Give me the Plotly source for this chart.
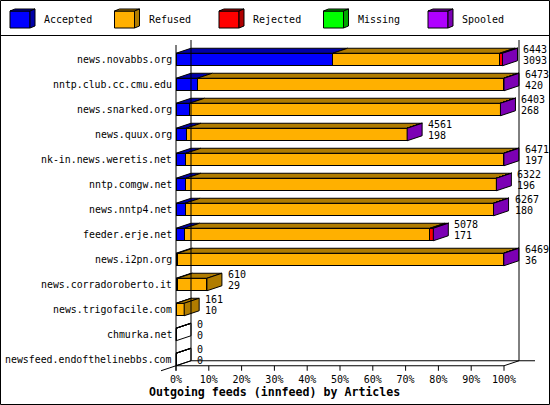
import plotly.graph_objects as go

# Outgoing feeds (innfeed) by Articles
feeds = ['news.novabbs.org', 'nntp.club.cc.cmu.edu', 'news.snarked.org', 'news.quux.org',
         'nk-in.news.weretis.net', 'nntp.comgw.net', 'news.nntp4.net', 'feeder.erje.net',
         'news.i2pn.org', 'news.corradoroberto.it', 'news.trigofacile.com', 'chmurka.net',
         'newsfeed.endofthelinebbs.com']
offered = [6443, 6473, 6403, 4561, 6471, 6322, 6267, 5078, 6469, 610, 161, 0, 0]
accepted = [3093, 420, 268, 198, 197, 196, 180, 171, 36, 29, 10, 0, 0]
refused = [3295, 6047, 6135, 4363, 6274, 6126, 6087, 4841, 6433, 581, 151, 0, 0]
rejected = [55, 6, 0, 0, 0, 0, 0, 66, 0, None, None, None, None]
missing = [0, 0, 0, 0, 0, 0, 0, 0, 0, None, None, None, None]
spooled = [0, 0, 0, 0, 0, 0, 0, 0, 0, None, None, None, None]

series = ['Accepted', 'Refused', 'Rejected', 'Missing', 'Spooled']
front = ['#0000ff', '#ffb000', '#ff0000', '#00ff00', '#b000ff']
dark = ['#0000a8', '#b07c00', '#b00000', '#00a800', '#7c00b4']
ticks = [0, 10, 20, 30, 40, 50, 60, 70, 80, 90, 100]

FONT = 'DejaVu Sans Mono'
L, R, T, B = 160, 14, 40, 33
W, H = 550 - L - R, 405 - T - B
PX_PCT = 3.28          # pixels per percent
DX, DY = 15 / PX_PCT, 0.2   # 3d depth in axis units
HW = 0.25              # half bar width

def px(p):
    return (p - L) / W

def py(p):
    return (405 - B - p) / H

scale = 100.0 / max(offered)
data = [accepted, refused, rejected, missing, spooled]
rows = list(range(len(feeds)))

fig = go.Figure()
for k, name in enumerate(series):
    fig.add_trace(go.Bar(
        y=rows, x=[(v or 0) * scale for v in data[k]], orientation='h', name=name,
        width=2 * HW, marker=dict(color=front[k], line=dict(color='black', width=1)),
        hoverinfo='skip', showlegend=False))

shapes = []
annots = []
blk = dict(color='black', width=1)
for i in rows:
    start = 0.0
    last = None
    for k in range(len(series)):
        v = data[k][i]
        if v is None:
            continue
        end = start + v * scale
        top = i - HW
        shapes.append(dict(type='path', xref='x', yref='y', fillcolor=dark[k], line=blk,
                           path=f'M{start},{top} L{start + DX},{top - DY} L{end + DX},{top - DY} L{end},{top} Z'))
        start = end
        last = k
    fill = dark[last] if offered[i] > 0 else 'rgba(0,0,0,0)'
    shapes.append(dict(type='path', xref='x', yref='y', fillcolor=fill, line=blk,
                       path=f'M{start},{i - HW} L{start + DX},{i - HW - DY} L{start + DX},{i + HW - DY} L{start},{i + HW} Z'))
    annots.append(dict(x=start + DX, y=i, xref='x', yref='y', text=str(offered[i]), showarrow=False,
                       xanchor='left', xshift=4, yshift=10, font=dict(family=FONT, size=10, color='black')))
    annots.append(dict(x=start + DX, y=i, xref='x', yref='y', text=str(accepted[i]), showarrow=False,
                       xanchor='left', xshift=4, yshift=-1, font=dict(family=FONT, size=10, color='black')))
    annots.append(dict(x=0, y=i, xref='x', yref='y', text=feeds[i], showarrow=False,
                       xanchor='right', xshift=-2, font=dict(family=FONT, size=9.9, color='black')))

# frame of the 3d chart
n = len(feeds) - 1
yf = n + HW
yb = yf - DY
ytop = -0.78
frame = [
    (DX, ytop, DX, yb), (100 + DX, ytop, 100 + DX, yb),
    (DX, yb, 109.45, yb), (0, yf, 100, yf), (100, yf, 100 + DX, yb),
    (-DX, yf + DY, DX, yb), (0, ytop + DY, 0, yf + DY),
]
for x0, y0, x1, y1 in frame:
    shapes.append(dict(type='line', xref='x', yref='y', x0=x0, y0=y0, x1=x1, y1=y1, line=blk))
for t in ticks:
    shapes.append(dict(type='line', xref='x', yref='y', x0=t, y0=yf, x1=t, y1=yf + DY, line=blk))

# legend with little cubes
for k, name in enumerate(series):
    x0 = 10 + 104.5 * k
    shapes.append(dict(type='path', xref='paper', yref='paper', fillcolor=front[k], line=blk,
                       path=f'M{px(x0)},{py(11)} L{px(x0 + 20)},{py(11)} L{px(x0 + 20)},{py(28)} L{px(x0)},{py(28)} Z'))
    shapes.append(dict(type='path', xref='paper', yref='paper', fillcolor=dark[k], line=blk,
                       path=f'M{px(x0)},{py(11)} L{px(x0 + 5)},{py(9)} L{px(x0 + 25)},{py(9)} L{px(x0 + 20)},{py(11)} Z'))
    shapes.append(dict(type='path', xref='paper', yref='paper', fillcolor=dark[k], line=blk,
                       path=f'M{px(x0 + 20)},{py(11)} L{px(x0 + 25)},{py(9)} L{px(x0 + 25)},{py(26)} L{px(x0 + 20)},{py(28)} Z'))
    annots.append(dict(x=px(x0 + 32), y=py(20), xref='paper', yref='paper', text=name, showarrow=False,
                       xanchor='left', yanchor='middle', font=dict(family=FONT, size=10, color='black')))

# outer border and legend separator
shapes.append(dict(type='rect', xref='paper', yref='paper', x0=px(0.5), y0=py(0.5), x1=px(549.5), y1=py(404.5), line=blk))
shapes.append(dict(type='line', xref='paper', yref='paper', x0=px(0), y0=py(35.5), x1=px(550), y1=py(35.5), line=blk))

annots.append(dict(x=px(274), y=py(392), xref='paper', yref='paper', text='<b>Outgoing feeds (innfeed) by Articles</b>',
                   showarrow=False, xanchor='center', yanchor='middle', font=dict(family=FONT, size=11.6, color='black')))

fig.update_layout(
    barmode='stack',
    width=550, height=405,
    margin=dict(l=L, r=R, t=T, b=B, pad=0),
    paper_bgcolor='white', plot_bgcolor='white',
    showlegend=False,
    shapes=shapes, annotations=annots,
    xaxis=dict(range=[(L - 176) / PX_PCT, (550 - R - 176) / PX_PCT], tickvals=ticks,
               ticktext=[f'{t}%' for t in ticks], showgrid=False, zeroline=False, showline=False,
               ticks='', tickfont=dict(family=FONT, size=10, color='black'), fixedrange=True),
    yaxis=dict(range=[n + 0.5, ytop], showticklabels=False, showgrid=False, zeroline=False,
               showline=False, ticks='', fixedrange=True),
)

fig.write_html('out.html', config={'displayModeBar': False},
               post_script="document.body.style.margin='0';document.body.style.overflow='hidden';")
